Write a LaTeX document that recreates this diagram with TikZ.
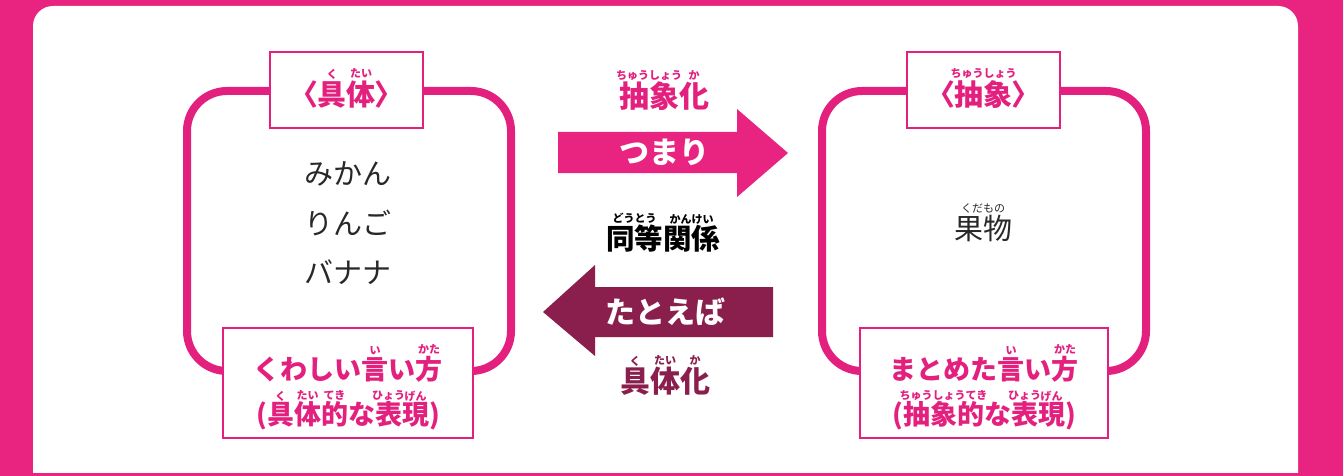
\documentclass[tikz,border=0pt]{standalone}
\usepackage{fontspec}
\setmainfont{Noto Sans CJK JP}
\newfontfamily\pfont{Noto Sans CJK JP}[RawFeature=+palt]
\definecolor{pinkbg}{RGB}{232,35,128}
\definecolor{pinkln}{RGB}{228,32,126}
\definecolor{darkarr}{RGB}{138,31,77}
\definecolor{inktxt}{RGB}{40,40,40}
\newcommand\rubyf{\fontsize{11}{11}\selectfont}
\newcommand\rb[2]{\leavevmode\setbox0=\hbox{#1}\rlap{\hbox to \wd0{\hss\smash{\raisebox{\dimexpr\ht0+2.5pt\relax}{\rubyf #2}}\hss}}\box0}
\tikzset{
  frame/.style={draw=pinkln,line width=8pt,rounded corners=40pt},
  lblbox/.style={draw=pinkln,line width=1.6pt,fill=white,inner sep=0pt},
  pinktxt/.style={text=pinkln,font=\bfseries\fontsize{29}{30}\selectfont,inner sep=0pt},
  pinktxtb/.style={text=pinkln,font=\bfseries\fontsize{27}{30}\selectfont,inner sep=0pt},
  bodytxt/.style={text=inktxt,font=\fontsize{29}{30}\selectfont,inner sep=0pt},
  midtxt/.style={font=\bfseries\fontsize{30}{32}\selectfont,inner sep=0pt},
}
\begin{document}
\begin{tikzpicture}[x=1pt,y=-1pt]
\useasboundingbox (0,0) rectangle (1343,476);
\fill[pinkbg] (0,0) rectangle (1343,476);
\fill[white,rounded corners=20pt] (33,560) -- (33,6) -- (1298,6) -- (1298,560) -- cycle;
\fill[pinkbg] (0,473) rectangle (1343,476);
% frames
\draw[frame] (187,91) rectangle (511,371);
\draw[frame] (822,91) rectangle (1146,371);
% top label boxes
\node[lblbox,minimum width=153pt,minimum height=76pt] (ltop) at (346.5,90) {};
\node[pinktxt] (ltoptxt) at (346.5,94) {{\pfont 〈}\rb{具}{く}\rb{体}{たい}{\pfont 〉}};
\node[lblbox,minimum width=153pt,minimum height=76pt] (rtop) at (983.5,90) {};
\node[pinktxt] (rtoptxt) at (983.5,94) {{\pfont 〈}\rb{抽象}{ちゅうしょう}{\pfont 〉}};
% bottom label boxes
\node[lblbox,minimum width=250pt,minimum height=110pt] (lbot) at (348,383) {};
\node[pinktxtb] (lbot1) at (348,369) {くわしい\rb{言}{い}い\rb{方}{かた}};
\node[pinktxtb] (lbot2) at (348,416) {(\rb{具}{く}\rb{体}{たい}\rb{的}{てき}な\rb{表}{ひょう}\rb{現}{げん})};
\node[lblbox,minimum width=248pt,minimum height=110pt] (rbot) at (984,383) {};
\node[pinktxtb] (rbot1) at (984,369) {まとめた\rb{言}{い}い\rb{方}{かた}};
\node[pinktxtb] (rbot2) at (984,416) {(\rb{抽象的}{ちゅうしょうてき}な\rb{表}{ひょう}\rb{現}{げん})};
% contents
\node[bodytxt] (c1) at (347.5,174) {みかん};
\node[bodytxt] (c2) at (347.5,223) {りんご};
\node[bodytxt] (c3) at (347.5,272) {バナナ};
\node[bodytxt] (c4) at (983,228) {\rb{果物}{くだもの}};
% arrows
\fill[pinkbg] (558,132) -- (737,132) -- (737,109) -- (788,153) -- (737,197) -- (737,173) -- (558,173) -- cycle;
\fill[darkarr] (773,287) -- (595,287) -- (595,265) -- (543,312) -- (595,356) -- (595,337) -- (773,337) -- cycle;
% middle texts
\node[midtxt,text=pinkln] (m1) at (664,96) {\rb{抽象}{ちゅうしょう}\rb{化}{か}};
\node[midtxt,text=white] (m2) at (664,152) {つまり};
\node[midtxt,text=black,font=\bfseries\fontsize{28.5}{32}\selectfont] (m3) at (663,239) {\rb{同等}{どうとう}\rb{関係}{かんけい}};
\node[midtxt,text=white] (m4) at (665,312) {たとえば};
\node[midtxt,text=darkarr] (m5) at (665,381) {\rb{具}{く}\rb{体}{たい}\rb{化}{か}};
\end{tikzpicture}
\end{document}
